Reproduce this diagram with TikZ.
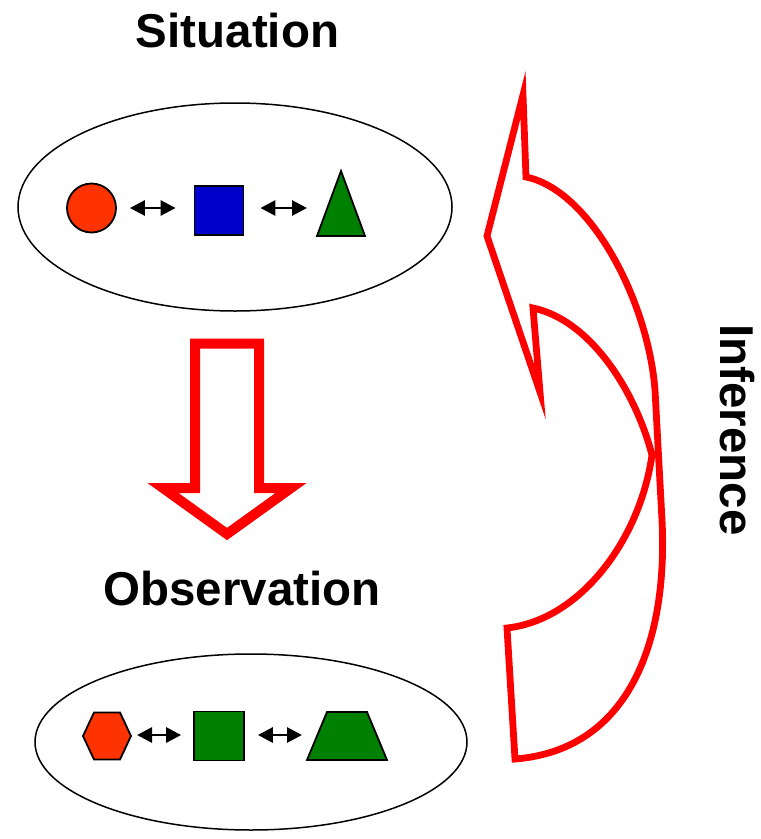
\documentclass[tikz,border=0pt]{standalone}
\usepackage{fontspec}
\setmainfont{Liberation Sans}
\usetikzlibrary{shapes.geometric,arrows.meta}
\definecolor{shapered}{HTML}{FF3300}
\definecolor{shapeblue}{HTML}{0000CC}
\definecolor{shapegreen}{HTML}{008000}
\definecolor{arrowred}{HTML}{FF0000}
\tikzset{
  oval/.style={ellipse, draw=black, line width=1.5pt, inner sep=0pt},
  title/.style={font=\fontsize{47.5}{50}\selectfont\bfseries, inner sep=0pt},
  fig/.style={draw=black, line width=1.8pt, inner sep=0pt},
  figpath/.style={draw=black, line width=1.8pt, line join=miter},
  box/.style={inner sep=0pt, outer sep=0pt},
  dbl/.style={line width=2.8pt, {Triangle[length=15pt,width=15pt]}-{Triangle[length=15pt,width=15pt]}},
  bigarrow/.style={draw=arrowred, line width=10pt, miter limit=20, line join=miter},
  curvearrow/.style={draw=arrowred, line width=6.8pt, miter limit=20, line join=miter},
}
\begin{document}
\begin{tikzpicture}[x=1pt,y=-1pt]
\path[use as bounding box, fill=white] (0,0) rectangle (761,839);

% titles
\node[title] (sit) at (237.5,31) {Situation};
\node[title] (obs) at (242,589) {Observation};
\node[title, rotate=-90] (inf) at (737,430) {Inference};

% ellipses
\node[oval, minimum width=434pt, minimum height=208pt] (topoval) at (235,207) {};
\node[oval, minimum width=432pt, minimum height=176pt] (botoval) at (251,742) {};

% top shapes
\node[fig, circle, fill=shapered, minimum size=49pt] (circ) at (91.5,208) {};
\node[fig, rectangle, fill=shapeblue, minimum width=49pt, minimum height=49pt] (sqb) at (219,210.5) {};
\node[box, minimum width=48pt, minimum height=65pt] (tri) at (341,203.5) {};
\filldraw[figpath, fill=shapegreen]
  (tri.south west) -- (tri.north) -- (tri.south east) -- cycle;
\draw[dbl, shorten <=13pt, shorten >=18pt] (circ.east) -- (circ.east -| sqb.west);
\draw[dbl, shorten <=16pt, shorten >=10pt] (sqb.east |- circ.east) -- (circ.east -| tri.west);

% bottom shapes
\node[box, minimum width=48pt, minimum height=47pt] (hex) at (107,736) {};
\filldraw[figpath, fill=shapered]
  (hex.west) -- ([xshift=11pt]hex.north west) -- ([xshift=-11pt]hex.north east) -- (hex.east)
  -- ([xshift=-11pt]hex.south east) -- ([xshift=11pt]hex.south west) -- cycle;
\node[fig, rectangle, fill=shapegreen, minimum width=50pt, minimum height=49pt] (sqg) at (219,736) {};
\node[box, minimum width=80pt, minimum height=48pt] (trap) at (347,736) {};
\filldraw[figpath, fill=shapegreen]
  (trap.south west) -- ([xshift=20pt]trap.north west) -- ([xshift=-20pt]trap.north east) -- (trap.south east) -- cycle;
\coordinate (ya) at (0,735);
\draw[dbl, shorten <=6pt, shorten >=12pt] (hex.east |- ya) -- (sqg.west |- ya);
\draw[dbl, shorten <=13pt, shorten >=5pt] (sqg.east |- ya) -- (trap.west |- ya);

% big down arrow
\draw[bigarrow] (195,343.5) -- (259,343.5) -- (259,488) -- (291,488) -- (227,534)
  -- (163,488) -- (195,488) -- cycle;

% curved inference arrow
\draw[curvearrow]
  (523,95) -- (526,177)
  .. controls (590,190) and (648,300) .. (655,390)
  -- (662,520)
  .. controls (668,640) and (630,750) .. (515,759)
  -- (507,628)
  .. controls (580,620) and (640,540) .. (652,455)
  .. controls (635,390) and (590,320) .. (533,308)
  -- (540,392) -- (487,236) -- cycle;
\end{tikzpicture}
\end{document}
